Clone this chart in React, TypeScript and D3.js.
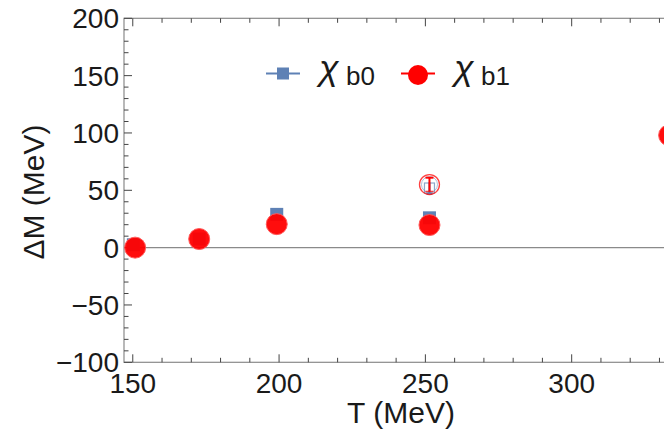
import React from "react";
import * as d3 from "d3";

const T_b0 = [150.2, 172.7, 199.2, 251.4];
const dM_b0 = [2.5, 7.5, 29, 26];
const T_b1 = [150.8, 172.7, 199.2, 251.4, 333.3];
const dM_b1 = [0, 7.5, 20.5, 19.7, 98];
const T_open = [251.4];
const dM_open_b1 = [55];
const err_open_b1 = [6];
const dM_open_b0 = [52];
const err_open_b0 = [5];
const xMajor = [150, 200, 250, 300];
const yMajor = [-100, -50, 0, 50, 100, 150, 200];

const W = 664, H = 441;
const BLUE = "#5E81B5";
const RED = "#FF0000";
const AX = "#8a8a8a";
const FONT = "'Liberation Sans', Arial, sans-serif";

export default function App() {
  const x = d3.scaleLinear().domain([147, 350]).range([124, 124 + 203 * 2.926]);
  const y = d3.scaleLinear().domain([-100, 200]).range([362.3, 18.3]);
  const xMinor = d3.range(150, 351, 10);
  const yMinor = d3.range(-100, 201, 10);
  const left = x(147), right = x(350), top = y(200), bottom = y(-100);
  const minus = (v: number) => (v < 0 ? "\u2212" + Math.abs(v) : String(v));

  return (
    <svg width={W} height={H} style={{ position: "fixed", left: 0, top: 0, background: "#fff" }} fontFamily={FONT}>
      <rect width={W} height={H} fill="#fff" />
      {/* zero line */}
      <line x1={left} x2={right} y1={y(0)} y2={y(0)} stroke={AX} strokeWidth={1.2} />
      {/* frame */}
      <rect x={left} y={top} width={right - left} height={bottom - top} fill="none" stroke={AX} strokeWidth={1.2} />
      {/* x ticks bottom & top */}
      {xMinor.map((t) => {
        const maj = t % 50 === 0;
        const L = maj ? 8 : 4.5;
        return (
          <g key={"xt" + t}>
            <line x1={x(t)} x2={x(t)} y1={bottom} y2={bottom - L} stroke="#444" strokeWidth={1} />
            <line x1={x(t)} x2={x(t)} y1={top} y2={top + L} stroke="#444" strokeWidth={1} />
          </g>
        );
      })}
      {yMinor.map((v) => {
        const maj = v % 50 === 0;
        const L = maj ? 8 : 4.5;
        return <line key={"yt" + v} x1={left} x2={left + L} y1={y(v)} y2={y(v)} stroke="#444" strokeWidth={1} />;
      })}
      {/* tick labels */}
      {xMajor.map((t) => (
        <text key={"xl" + t} x={x(t)} y={bottom + 31} textAnchor="middle" fontSize={28} fill="#1a1a1a">
          {t}
        </text>
      ))}
      {yMajor.map((v) => (
        <text key={"yl" + v} x={left - 5} y={y(v) + 10} textAnchor="end" fontSize={28} fill="#1a1a1a">
          {minus(v)}
        </text>
      ))}
      {/* axis labels */}
      <text x={401} y={423} textAnchor="middle" fontSize={30} fill="#1a1a1a">T (MeV)</text>
      <text transform={`translate(44,192)rotate(-90)`} textAnchor="middle" fontSize={30} fill="#1a1a1a">
        ΔM (MeV)
      </text>

      {/* b0 squares */}
      {T_b0.map((t, i) => (
        <rect key={"b0" + i} x={x(t) - 6.5} y={y(dM_b0[i]) - 6.5} width={13} height={13} fill={BLUE} />
      ))}
      {/* open markers with error bars */}
      {T_open.map((t, i) => (
        <g key={"op" + i}>
          <rect x={x(t) - 5} y={y(dM_open_b0[i]) - 5} width={10} height={10} fill="none" stroke={BLUE} strokeWidth={1.2} opacity={0.7} />
          <line x1={x(t)} x2={x(t)} y1={y(dM_open_b0[i] - err_open_b0[i])} y2={y(dM_open_b0[i] + err_open_b0[i])} stroke={BLUE} strokeWidth={2} />
          <line x1={x(t) - 3} x2={x(t) + 3} y1={y(dM_open_b0[i] - err_open_b0[i])} y2={y(dM_open_b0[i] - err_open_b0[i])} stroke={BLUE} strokeWidth={2} />
          <circle cx={x(t)} cy={y(dM_open_b1[i])} r={10} fill="none" stroke={RED} strokeWidth={1.3} opacity={0.75} />
          <circle cx={x(t)} cy={y(dM_open_b1[i])} r={8} fill="none" stroke={BLUE} strokeWidth={1} opacity={0.5} />
          <line x1={x(t)} x2={x(t)} y1={y(dM_open_b1[i] - err_open_b1[i])} y2={y(dM_open_b1[i] + err_open_b1[i])} stroke={RED} strokeWidth={2} />
          <line x1={x(t) - 4} x2={x(t) + 4} y1={y(dM_open_b1[i] + err_open_b1[i])} y2={y(dM_open_b1[i] + err_open_b1[i])} stroke={RED} strokeWidth={2} />
          <line x1={x(t) - 4} x2={x(t) + 4} y1={y(dM_open_b1[i] - err_open_b1[i])} y2={y(dM_open_b1[i] - err_open_b1[i])} stroke={RED} strokeWidth={1.5} opacity={0.7} />
        </g>
      ))}
      {/* b1 circles */}
      {T_b1.map((t, i) => (
        <circle key={"b1" + i} cx={x(t)} cy={y(dM_b1[i])} r={10.5} fill={RED} fillOpacity={0.95} stroke="#ff5a5a" strokeWidth={1} />
      ))}

      {/* legend */}
      <line x1={266} x2={300} y1={73.5} y2={73.5} stroke={BLUE} strokeWidth={2} />
      <rect x={277} y={67.5} width={12} height={12} fill={BLUE} />
      <text x={319} y={80} fontSize={36} fontStyle="italic" fill="#1a1a1a">χ</text>
      <text x={346} y={85} fontSize={26} fill="#1a1a1a">b0</text>
      <line x1={401} x2={435} y1={73.5} y2={73.5} stroke={RED} strokeWidth={2} />
      <circle cx={418} cy={75} r={10} fill={RED} />
      <text x={454} y={80} fontSize={36} fontStyle="italic" fill="#1a1a1a">χ</text>
      <text x={481} y={85} fontSize={26} fill="#1a1a1a">b1</text>
    </svg>
  );
}
